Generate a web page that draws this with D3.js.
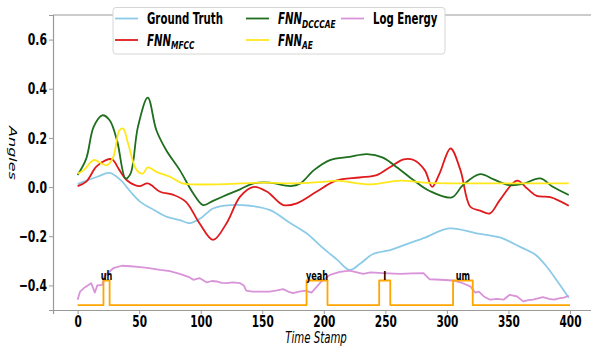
<!DOCTYPE html>
<html>
<head>
<meta charset="utf-8">
<script src="https://d3js.org/d3.v7.min.js"></script>
<style>
  body { margin: 0; background: #fff; }
  svg { display: block; }
</style>
</head>
<body>
<svg id="chart" width="591" height="346"></svg>
<script>
// ---- data ----
var gtT = [0, 5, 16, 26, 35, 43, 51, 62, 72, 83, 91, 100, 110, 124, 140, 156, 173, 186, 198, 211, 221, 230, 240, 254, 262, 281, 302, 324, 343, 359, 365, 372, 381, 390, 399];
var gtV = [0.012, 0.022, 0.042, 0.058, 0.028, -0.019, -0.06, -0.093, -0.12, -0.134, -0.147, -0.127, -0.087, -0.073, -0.076, -0.093, -0.147, -0.188, -0.242, -0.296, -0.337, -0.31, -0.272, -0.256, -0.242, -0.208, -0.168, -0.188, -0.205, -0.242, -0.256, -0.275, -0.323, -0.385, -0.45];

var mfccT = [0, 7, 15, 23, 28, 34, 40, 50, 57, 67, 78, 88, 99, 110, 121, 132, 143, 154, 167, 178, 194, 210, 229, 243, 254, 265, 273, 282, 288, 294, 303, 311, 319, 327, 335, 343, 357, 365, 373, 384, 399];
var mfccV = [0.004, 0.022, 0.082, 0.11, 0.113, 0.069, 0.028, 0.004, 0.015, -0.019, -0.032, -0.06, -0.147, -0.215, -0.147, -0.039, 0.001, -0.019, -0.073, -0.066, -0.019, 0.026, 0.039, 0.049, 0.082, 0.113, 0.11, 0.069, 0.001, 0.055, 0.157, 0.069, -0.08, -0.096, -0.107, -0.053, 0.026, -0.005, -0.036, -0.041, -0.076];

var dccT = [0, 7, 13, 20, 26, 32, 39, 43, 49, 57, 64, 72, 83, 94, 102, 110, 121, 132, 143, 156, 173, 181, 192, 205, 221, 235, 248, 259, 273, 286, 304, 313, 327, 338, 351, 361, 376, 386, 399];
var dccV = [0.049, 0.116, 0.245, 0.292, 0.272, 0.19, 0.035, 0.055, 0.245, 0.364, 0.231, 0.15, 0.069, -0.026, -0.073, -0.056, -0.032, -0.009, 0.015, 0.018, 0.004, 0.015, 0.069, 0.11, 0.123, 0.134, 0.12, 0.082, 0.028, -0.016, -0.042, 0.008, 0.053, 0.031, 0.008, 0.012, 0.035, 0.001, -0.032];

var aeT = [0, 5, 13, 18, 24, 29, 34, 37, 41, 48, 53, 57, 64, 75, 85, 94, 120, 150, 178, 202, 211, 238, 262, 281, 302, 340, 399];
var aeV = [0.055, 0.069, 0.11, 0.10, 0.089, 0.123, 0.231, 0.238, 0.177, 0.069, 0.055, 0.08, 0.062, 0.042, 0.015, 0.011, 0.012, 0.018, 0.015, 0.022, 0.026, 0.011, 0.026, 0.018, 0.015, 0.015, 0.015];

var energyT = [0, 2, 6, 11, 14, 16, 20, 22, 29, 36, 43, 51, 58, 67, 75, 83, 90, 94, 99, 105, 109, 113, 117, 121, 126, 132, 135, 137, 142, 148, 156, 162, 167, 171, 175, 180, 185, 190, 194, 198, 205, 213, 221, 232, 238, 248, 262, 272, 281, 286, 295, 305, 313, 319, 323, 326, 330, 335, 341, 346, 351, 357, 362, 366, 370, 378, 383, 387, 392, 395, 399];
var energyV = [-0.458, -0.425, -0.407, -0.391, -0.429, -0.40, -0.398, -0.361, -0.33, -0.32, -0.322, -0.326, -0.33, -0.337, -0.342, -0.353, -0.365, -0.377, -0.37, -0.388, -0.382, -0.384, -0.39, -0.391, -0.388, -0.391, -0.40, -0.421, -0.425, -0.425, -0.425, -0.42, -0.415, -0.425, -0.431, -0.425, -0.421, -0.429, -0.407, -0.384, -0.357, -0.345, -0.34, -0.353, -0.347, -0.35, -0.353, -0.351, -0.35, -0.375, -0.377, -0.38, -0.391, -0.404, -0.429, -0.425, -0.445, -0.458, -0.455, -0.458, -0.438, -0.445, -0.465, -0.46, -0.458, -0.448, -0.455, -0.458, -0.452, -0.45, -0.442];

var words = ["uh", "yeah", "I", "um"];
var wordStart = [21, 186, 245, 305];
var wordEnd = [26, 203, 254, 321];
var vadLow = -0.48, vadHigh = -0.38;

var xTicks = [0, 50, 100, 150, 200, 250, 300, 350, 400];
var yTicks = [-0.4, -0.2, 0.0, 0.2, 0.4, 0.6];

// ---- layout ----
var mLeft = 53, mTop = 15, mBottom = 310, mRight = 594.6;
var squeeze = 0.68;   // the source figure was squashed sideways

var svg = d3.select('#chart');
svg.append('rect').attr('width', 591).attr('height', 346).attr('fill', '#fff');

var x = d3.scaleLinear().domain([-20, 420]).range([mLeft, mRight]);
var y = d3.scaleLinear().domain([-0.5, 0.7]).range([mBottom, mTop]);

function pts(ts, vs) { return ts.map(function (t, i) { return [t, vs[i]]; }); }

var smooth = d3.line()
    .x(function (d) { return x(d[0]); })
    .y(function (d) { return y(d[1]); })
    .curve(d3.curveCatmullRom.alpha(0.5));
var straight = d3.line()
    .x(function (d) { return x(d[0]); })
    .y(function (d) { return y(d[1]); });

// step signal for the words
var vad = [[0, vadLow]];
wordStart.forEach(function (s, i) {
    vad.push([s, vadLow], [s, vadHigh], [wordEnd[i], vadHigh], [wordEnd[i], vadLow]);
});
vad.push([400, vadLow]);

var series = [
    { pts: pts(gtT, gtV), color: '#8ccbe8', line: smooth },
    { pts: pts(mfccT, mfccV), color: '#e0191c', line: smooth },
    { pts: pts(dccT, dccV), color: '#1d6e1d', line: smooth },
    { pts: pts(aeT, aeV), color: '#ffe81a', line: smooth },
    { pts: pts(energyT, energyV), color: '#d993d9', line: straight },
    { pts: vad, color: '#ffa500', line: straight }
];

var plot = svg.append('g');
series.forEach(function (s) {
    plot.append('path')
        .attr('d', s.line(s.pts))
        .attr('fill', 'none')
        .attr('stroke', s.color)
        .attr('stroke-width', 1.8)
        .attr('stroke-linejoin', 'round');
});

// word labels
words.forEach(function (w, i) {
    var cx = x((wordStart[i] + wordEnd[i]) / 2);
    svg.append('text')
        .attr('transform', 'translate(' + cx + ',' + (y(vadHigh) - 0.5) + ') scale(' + squeeze + ',1)')
        .attr('text-anchor', 'middle')
        .attr('font-family', 'DejaVu Sans')
        .attr('font-weight', 'bold')
        .attr('font-size', 12)
        .text(w);
});

// ---- axes ----
var axisColor = '#9a9a9a';
var gx = svg.append('g').attr('transform', 'translate(0,' + mBottom + ')')
    .call(d3.axisBottom(x).tickValues(xTicks).tickSize(4).tickPadding(2).tickFormat(d3.format('d')));
var gy = svg.append('g').attr('transform', 'translate(' + mLeft + ',0)')
    .call(d3.axisLeft(y).tickValues(yTicks).tickSize(4).tickPadding(3).tickFormat(d3.format('.1f')));

[gx, gy].forEach(function (g) {
    g.select('.domain').attr('stroke', axisColor).attr('stroke-width', 1.2);
    g.selectAll('.tick line').attr('stroke', axisColor);
    g.selectAll('.tick text')
        .attr('fill', '#000')
        .attr('font-family', 'DejaVu Sans')
        .attr('font-weight', 'bold')
        .attr('font-size', 16);
});
gx.selectAll('.tick text').attr('font-size', 15.5).attr('transform', 'scale(' + squeeze + ',1)');
gy.selectAll('.tick text')
    .attr('x', -6 / squeeze)
    .attr('transform', 'scale(' + squeeze + ',1)');

svg.append('line')
    .attr('x1', mLeft).attr('x2', mRight).attr('y1', mTop).attr('y2', mTop)
    .attr('stroke', axisColor).attr('stroke-width', 1.2);

svg.append('text')
    .attr('transform', 'translate(316,342.5) scale(' + squeeze + ',1)')
    .attr('text-anchor', 'middle')
    .attr('font-family', 'DejaVu Sans')
    .attr('font-style', 'italic')
    .attr('font-size', 15)
    .text('Time Stamp');

// y label reads top-to-bottom in the source
svg.append('text')
    .attr('transform', 'translate(9,153) scale(' + squeeze + ',1) rotate(90)')
    .attr('text-anchor', 'middle')
    .attr('font-family', 'DejaVu Sans')
    .attr('font-style', 'italic')
    .attr('font-size', 16)
    .text('Angles');

// ---- legend ----
var legend = svg.append('g');
legend.append('rect')
    .attr('x', 113).attr('y', 7.5).attr('width', 332).attr('height', 46.5)
    .attr('rx', 3).attr('fill', '#fff').attr('stroke', '#d6d6d6');

var legendItems = [
    { name: 'Ground Truth', sub: null, color: series[0].color, lx: 115, ly: 18.5 },
    { name: 'FNN', sub: 'MFCC', color: series[1].color, lx: 115, ly: 40 },
    { name: 'FNN', sub: 'DCCCAE', color: series[2].color, lx: 246, ly: 18.5 },
    { name: 'FNN', sub: 'AE', color: series[3].color, lx: 246, ly: 40 },
    { name: 'Log Energy', sub: null, color: series[4].color, lx: 341, ly: 18.5 }
];
legendItems.forEach(function (d) {
    legend.append('line')
        .attr('x1', d.lx).attr('x2', d.lx + 23).attr('y1', d.ly).attr('y2', d.ly)
        .attr('stroke', d.color).attr('stroke-width', 1.8);
    var t = legend.append('text')
        .attr('transform', 'translate(' + (d.lx + 32) + ',' + (d.ly + 5.5) + ') scale(' + squeeze + ',1)')
        .attr('font-family', 'DejaVu Sans')
        .attr('font-weight', 'bold')
        .attr('font-size', 15);
    if (d.sub) {
        t.attr('font-style', 'italic');
        t.append('tspan').text(d.name);
        t.append('tspan').attr('dy', 3.5).attr('font-size', 11).text(d.sub);
    } else {
        t.text(d.name);
    }
});
</script>
</body>
</html>
